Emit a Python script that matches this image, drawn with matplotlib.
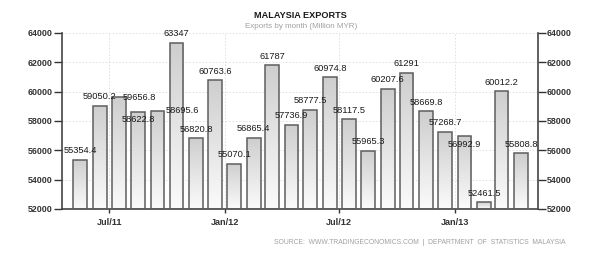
import matplotlib
matplotlib.use("Agg")
import matplotlib.pyplot as plt
import matplotlib.dates as mdates
from matplotlib.colors import LinearSegmentedColormap
import numpy as np
import datetime as dt

months = ["2011-05", "2011-06", "2011-07", "2011-08", "2011-09", "2011-10",
          "2011-11", "2011-12", "2012-01", "2012-02", "2012-03", "2012-04",
          "2012-05", "2012-06", "2012-07", "2012-08", "2012-09", "2012-10",
          "2012-11", "2012-12", "2013-01", "2013-02", "2013-03", "2013-04"]
exports = [55354.4, 59050.2, 59656.8, 58622.8, 58695.6, 63347,
           56820.8, 60763.6, 55070.1, 56865.4, 61787, 57736.9,
           58777.5, 60974.8, 58117.5, 55965.3, 60207.6, 61291,
           58669.8, 57268.7, 56992.9, 52461.5, 60012.2, 55808.8]
tick_dates = ["2011-07-01", "2012-01-01", "2012-07-01", "2013-01-01"]
tick_labels = ["Jul/11", "Jan/12", "Jul/12", "Jan/13"]
yticks = [52000, 54000, 56000, 58000, 60000, 62000, 64000]

# label placement offsets in pixels (dx, dy) relative to bar top centre
label_offsets = {2: (21, -1), 3: (0, -8), 4: (25, 0), 20: (0, -9)}

font = "Liberation Sans"

x = [mdates.date2num(dt.datetime.strptime(m + "-16", "%Y-%m-%d")) for m in months]
tx = [mdates.date2num(dt.datetime.strptime(t, "%Y-%m-%d")) for t in tick_dates]

fig = plt.figure(figsize=(6.01, 2.54), dpi=100)
ax = fig.add_axes([62/601, 1-209/254, (538-62)/601, (209-33)/254])

width = 22
ymin, ymax = 52000, 64000
grad = np.linspace(0, 1, 256).reshape(-1, 1)
cmap = LinearSegmentedColormap.from_list("g", ["#fbfbfb", "#cecece"])

bars = ax.bar(x, [v - ymin for v in exports], bottom=ymin, width=width,
              facecolor="none", edgecolor="#5e5e5e", linewidth=1.1, zorder=3)
for b, v in zip(bars, exports):
    x0 = b.get_x()
    im = ax.imshow(grad, extent=[x0, x0 + width, ymin, v], origin="lower",
                   cmap=cmap, aspect="auto", zorder=2, interpolation="bilinear")
    im.set_clip_path(b)

px = 0.72
for i, (xi, v) in enumerate(zip(x, exports)):
    lab = f"{v:g}"
    dx, dy = label_offsets.get(i, (0, 9))
    ax.annotate(lab, (xi, v), xytext=(dx * px, dy * px), textcoords="offset points",
                ha="center", va="center", fontsize=6.7, family=font,
                color="#1a1a1a", zorder=5, annotation_clip=False)

ax.set_xlim(x[0] - 29, x[-1] + 27)
ax.set_ylim(ymin, ymax)

ax.set_yticks(yticks)
ax.set_yticklabels([str(t) for t in yticks])
ax.set_xticks(tx)
ax.set_xticklabels(tick_labels)
ax.tick_params(axis="y", left=True, right=True, labelleft=True, labelright=True,
               length=5.5, width=1, color="#333333", labelsize=6.4, pad=1)
ax.tick_params(axis="x", length=3, width=1, color="#333333", labelsize=6.6, pad=3.5)
for lab in ax.get_xticklabels() + ax.get_yticklabels():
    lab.set_family(font)
    lab.set_fontweight("bold")
    lab.set_color("#333333")
for lab in ax.yaxis.get_ticklabels():
    lab.set_family(font)

ax.grid(True, color="#dddddd", linestyle=(0, (2, 2)), linewidth=0.6, zorder=0)
ax.set_axisbelow(True)
ax.spines["top"].set_visible(False)
for s in ["left", "right", "bottom"]:
    ax.spines[s].set_color("#444444")
    ax.spines[s].set_linewidth(1.2)

fig.text(0.5, 1-15/254, "MALAYSIA EXPORTS", ha="center", va="center",
         fontsize=6.6, fontweight="bold", color="#1a1a1a", family=font)
fig.text(301/601, 1-27/254, "Exports by month (Million MYR)", ha="center", va="center",
         fontsize=5.8, color="#a0a0a0", family=font)
fig.text(565/601, 1-242/254,
         "SOURCE:  WWW.TRADINGECONOMICS.COM  |  DEPARTMENT  OF  STATISTICS  MALAYSIA",
         ha="right", va="center", fontsize=4.9, color="#a0a0a0", family=font)

fig.savefig("out.png", dpi=100, facecolor="white")
